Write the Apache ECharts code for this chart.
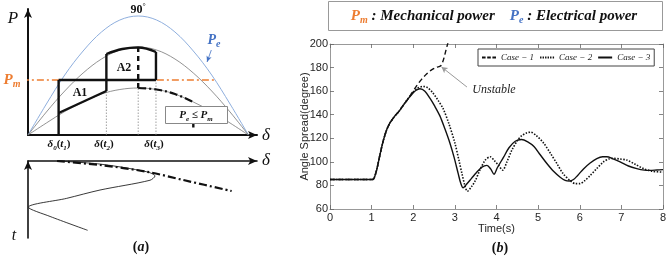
<!DOCTYPE html>
<html>
<head>
<meta charset="utf-8">
<script src="https://cdn.jsdelivr.net/npm/echarts@6/dist/echarts.min.js"></script>
<style>
html, body { margin: 0; padding: 0; background: #fff; }
#chart { width: 669px; height: 257px; }
</style>
</head>
<body>
<div id="chart"></div>
<script>
// ---- (b) angle spread vs time, [t (s), degree] ----
const timeTicks = [0, 1, 2, 3, 4, 5, 6, 7, 8]
const angleTicks = [60, 80, 100, 120, 140, 160, 180, 200]
const case1 = [[0, 85], [1, 85], [1.05, 85.5], [1.12, 93], [1.2, 106], [1.28, 118], [1.36, 127], [1.44, 133], [1.56, 139], [1.66, 143], [1.76, 148],
  [1.84, 151.5], [1.96, 158], [2.08, 164.5], [2.2, 170], [2.32, 174.5], [2.44, 178], [2.56, 180.2], [2.66, 181.5], [2.72, 186], [2.78, 194], [2.84, 202], [2.88, 208]]
const case2 = [[0, 85], [1, 85], [1.05, 85.5], [1.12, 93], [1.2, 106], [1.28, 118], [1.36, 127], [1.44, 133], [1.56, 139], [1.66, 143], [1.76, 148],
  [1.86, 153], [1.98, 158.5], [2.1, 162.5], [2.24, 164], [2.34, 163], [2.46, 159], [2.6, 152], [2.72, 145], [2.86, 132], [3.0, 116], [3.1, 101],
  [3.17, 90], [3.24, 80], [3.3, 75], [3.4, 79], [3.49, 84], [3.6, 93], [3.73, 101.5], [3.85, 104.3], [3.95, 101], [4.05, 97], [4.15, 93],
  [4.25, 100], [4.37, 110], [4.5, 118], [4.6, 122], [4.72, 124.5], [4.82, 125.2], [4.95, 122.5], [5.13, 116], [5.3, 107], [5.45, 98.6],
  [5.6, 90], [5.77, 84], [5.9, 81.5], [6.0, 81.5], [6.12, 84], [6.25, 88.4], [6.4, 94], [6.57, 100], [6.7, 102.5], [6.81, 103], [6.95, 102.5],
  [7.13, 101.5], [7.33, 98], [7.53, 94.3], [7.75, 92], [8, 91.3]]
const case3 = [[0, 85], [1, 85], [1.05, 85.5], [1.12, 93], [1.2, 106], [1.28, 118], [1.36, 127], [1.44, 133], [1.56, 139], [1.66, 143], [1.76, 148],
  [1.84, 152], [1.96, 157], [2.06, 160.5], [2.16, 162], [2.28, 160], [2.4, 154], [2.52, 147], [2.64, 139], [2.76, 128], [2.88, 116], [2.98, 104],
  [3.08, 90], [3.14, 82], [3.2, 78], [3.28, 81], [3.4, 86], [3.52, 91], [3.65, 95.5], [3.77, 97], [3.86, 94], [3.94, 89.5], [4.02, 95],
  [4.17, 104], [4.3, 112], [4.45, 117.5], [4.6, 119], [4.75, 117], [4.9, 113], [5.05, 106], [5.21, 98.6], [5.37, 92], [5.53, 87], [5.65, 84.3],
  [5.75, 83.8], [5.85, 85], [5.95, 88.5], [6.09, 94], [6.25, 99], [6.41, 102.8], [6.55, 104.3], [6.65, 104.3], [6.8, 102.5], [6.97, 100],
  [7.17, 96.5], [7.37, 94.3], [7.55, 93], [7.69, 92.8], [7.85, 93.1], [8, 93.4]]
const caseNames = ['Case \u2212 1', 'Case \u2212 2', 'Case \u2212 3']
const unstableArrow = [[3.29, 163.5], [2.68, 180.5]]

// ---- (a) power-angle diagram, [delta (deg), P] ----
const deltaSamples = [0, 15, 30, 45, 60, 75, 90, 105, 120, 135, 150, 165, 180]
const pePre = [0, 0.31, 0.6, 0.84, 1.03, 1.15, 1.19, 1.15, 1.03, 0.84, 0.6, 0.31, 0]
const pePost = [0, 0.23, 0.44, 0.62, 0.76, 0.85, 0.88, 0.85, 0.76, 0.62, 0.44, 0.23, 0]
const peFault = [0, 0.12, 0.235, 0.33, 0.41, 0.455, 0.47, 0.455, 0.41, 0.33, 0.235, 0.12, 0]
const pmLine = [[-5, 0.55], [154, 0.55]]
const thickSegments = [
  [[25, 0], [25, 0.55]],
  [[25, 0.55], [104.5, 0.55]],
  [[25, 0.22], [64, 0.44]],
  [[64, 0.44], [64, 0.81]],
  [[104.5, 0.55], [104.5, 0.83]],
  [[135, 0.115], [135, 0.075]]
]
const topArc = [[64, 0.81], [77, 0.86], [90, 0.875], [104.5, 0.83]]
const peakDashed = [[90, 0.47], [90, 0.875]]
const faultDashDot = [[90, 0.47], [105, 0.455], [120, 0.41], [135, 0.33]]
const guideLines = [
  [[64, 0], [64, 0.44]],
  [[90, 0], [90, 0.47]],
  [[104.5, 0], [104.5, 0.55]]
]
const peArrow = [[149.7, 0.85], [146.2, 0.73]]
// swing curves, [delta (deg), t]
const swingStable = [[23.7, 0], [58.8, 0.04], [97, 0.14], [103.7, 0.195], [99.6, 0.25], [58.8, 0.377], [31.6, 0.485], [0.3, 0.6], [18, 0.72], [48.7, 0.9]]
const swingUnstable = [[23.7, 0], [58.8, 0.052], [96.9, 0.139], [126.8, 0.247], [166.3, 0.39]]

const serif = 'Liberation Serif'
const sans = 'Liberation Sans'
const black = '#111'
const orange = '#ed7d31'
const blue = '#4472c4'

const chart = echarts.init(document.getElementById('chart'))

function zipDelta(vals) {
  return deltaSamples.map((d, i) => [d, vals[i]])
}

function diagramLine(data, style, extra) {
  return Object.assign({
    type: 'line',
    xAxisIndex: 2,
    yAxisIndex: 2,
    data: data,
    symbol: 'none',
    silent: true,
    lineStyle: style
  }, extra || {})
}

// rich text tokens for math-like labels (m: italic letter, r: plain, s: subscript)
function tok(size, color, kind) {
  const sub = kind === 's'
  const fs = sub ? Math.round(size * 0.68) : size
  return {
    fontFamily: serif,
    fontStyle: kind === 'r' ? 'normal' : 'italic',
    fontWeight: 'bold',
    fontSize: fs,
    lineHeight: sub ? fs : size + 4,
    fill: color,
    verticalAlign: sub ? 'bottom' : 'middle'
  }
}
function mathRich(size, color) {
  return { m: tok(size, color, 'm'), r: tok(size, color, 'r'), s: tok(size, color, 's') }
}

function label(x, y, text, rich) {
  return {
    type: 'text', x: x, y: y, z: 100,
    style: { text: text, rich: rich, align: 'center', verticalAlign: 'middle' }
  }
}

const series = []

// (b) cases
const caseStyles = [
  { type: [5, 3], width: 1.4 },
  { type: [1.5, 1.5], width: 1.6 },
  { type: 'solid', width: 1.4 }
]
const caseIcons = [
  'path://M0,0h3.6v2h-3.6z M5.2,0h3.6v2h-3.6z M10.4,0h3.6v2h-3.6z',
  'path://M0,0h1.4v2h-1.4z M2.5,0h1.4v2h-1.4z M5,0h1.4v2h-1.4z M7.5,0h1.4v2h-1.4z M10,0h1.4v2h-1.4z M12.6,0h1.4v2h-1.4z',
  'path://M0,0h14v2h-14z'
]
;[case1, case2, case3].forEach((d, i) => {
  series.push({
    name: caseNames[i],
    type: 'line',
    xAxisIndex: 0,
    yAxisIndex: 0,
    data: d,
    symbol: 'none',
    smooth: 0.3,
    lineStyle: Object.assign({ color: black }, caseStyles[i]),
    itemStyle: { color: black },
    markLine: i === 0 ? {
      silent: true,
      symbol: ['none', 'arrow'],
      symbolSize: [5, 6],
      label: { show: false },
      lineStyle: { color: '#999', width: 1, type: 'solid' },
      data: [[{ coord: unstableArrow[0] }, { coord: unstableArrow[1] }]]
    } : undefined
  })
})

// (a) upper diagram
series.push(diagramLine(zipDelta(pePre), { color: '#8eaedd', width: 1 }, { smooth: 0.35 }))
series.push(diagramLine(zipDelta(pePost), { color: '#777', width: 0.8 }, { smooth: 0.35 }))
series.push(diagramLine(zipDelta(peFault), { color: '#777', width: 0.8 }, { smooth: 0.35 }))
guideLines.forEach(seg => {
  series.push(diagramLine(seg, { color: '#888', width: 0.8, type: [1.5, 1.5] }))
})
series.push(diagramLine(pmLine, { color: orange, width: 1.5, type: [7, 3, 2, 3] }, { clip: false }))
thickSegments.forEach(seg => {
  series.push(diagramLine(seg, { color: black, width: 2.4 }))
})
series.push(diagramLine(topArc, { color: black, width: 2.4 }, { smooth: 0.4 }))
series.push(diagramLine(peakDashed, { color: black, width: 2.4, type: [5, 4] }))
series.push(diagramLine(faultDashDot, { color: black, width: 2.2, type: [8, 3, 2, 3] }, {
  smooth: 0.4,
  markLine: {
    silent: true,
    symbol: ['none', 'arrow'],
    symbolSize: [4, 6],
    label: { show: false },
    lineStyle: { color: blue, width: 0.8, type: 'solid' },
    data: [[{ coord: peArrow[0] }, { coord: peArrow[1] }]]
  }
}))

// (a) lower diagram
series.push({
  type: 'line', xAxisIndex: 3, yAxisIndex: 3, data: swingStable, symbol: 'none', silent: true, smooth: 0.3,
  lineStyle: { color: '#222', width: 0.9 }
})
series.push({
  type: 'line', xAxisIndex: 3, yAxisIndex: 3, data: swingUnstable, symbol: 'none', silent: true, smooth: 0.3,
  lineStyle: { color: black, width: 2.2, type: [8, 3, 2, 3] }
})

const gridTick = { show: true, inside: true, length: 4, lineStyle: { color: '#666', width: 0.8 } }
const gridLine = { show: true, onZero: false, lineStyle: { color: '#999', width: 1 } }
const arrowAxis = (w) => ({ show: true, onZero: true, symbol: ['none', 'arrow'], symbolSize: [6, 9], lineStyle: { color: black, width: w } })

const headerRich = {
  po: tok(15, orange, 'm'), so: tok(15, orange, 's'),
  pb: tok(15, blue, 'm'), sb: tok(15, blue, 's'),
  r: tok(15, black, 'm')
}

const option = {
  animation: false,
  backgroundColor: '#fff',
  grid: [
    { left: 330, top: 44, width: 333, height: 165, outerBoundsMode: 'none' },
    { left: 28, top: 9, width: 229, height: 126, outerBoundsMode: 'none' },
    { left: 28, top: 161, width: 229, height: 77, outerBoundsMode: 'none' }
  ],
  legend: {
    data: caseNames.map((n, i) => ({ name: n, icon: caseIcons[i] })),
    left: 478,
    top: 49,
    orient: 'horizontal',
    itemWidth: 14,
    itemHeight: 8,
    itemGap: 6,
    padding: [4, 4],
    borderColor: '#444',
    borderWidth: 1,
    backgroundColor: '#fff',
    itemStyle: { borderWidth: 0 },
    lineStyle: { width: 0 },
    textStyle: { fontFamily: serif, fontStyle: 'italic', fontSize: 9, color: '#222' }
  },
  xAxis: [
    {
      gridIndex: 0, type: 'value', min: 0, max: 8, interval: 1,
      name: 'Time(s)', nameLocation: 'middle', nameGap: 14, nameMoveOverlap: false,
      nameTextStyle: { fontFamily: sans, fontSize: 11, color: '#262626' },
      axisLine: gridLine, axisTick: gridTick, splitLine: { show: false },
      axisLabel: { fontFamily: sans, fontSize: 11, color: '#262626', margin: 3,
        formatter: v => String(timeTicks[timeTicks.indexOf(v)]) }
    },
    {
      gridIndex: 0, type: 'value', position: 'top', min: 0, max: 8, interval: 1,
      axisLine: gridLine, axisTick: gridTick, axisLabel: { show: false }, splitLine: { show: false }
    },
    {
      gridIndex: 1, type: 'value', min: 0, max: 187,
      axisLine: arrowAxis(2), axisTick: { show: false }, axisLabel: { show: false }, splitLine: { show: false }
    },
    {
      gridIndex: 2, type: 'value', min: 0, max: 187, position: 'top',
      axisLine: arrowAxis(1.6), axisTick: { show: false }, axisLabel: { show: false }, splitLine: { show: false }
    }
  ],
  yAxis: [
    {
      gridIndex: 0, type: 'value', min: 60, max: 200, interval: 20,
      name: 'Angle Spread(degree)', nameLocation: 'middle', nameGap: 20, nameMoveOverlap: false,
      nameTextStyle: { fontFamily: sans, fontSize: 11, color: '#262626' },
      axisLine: gridLine, axisTick: gridTick, splitLine: { show: false },
      axisLabel: { fontFamily: sans, fontSize: 11, color: '#262626', margin: 2,
        formatter: v => String(angleTicks[angleTicks.indexOf(v)]) }
    },
    {
      gridIndex: 0, type: 'value', position: 'right', min: 60, max: 200, interval: 20,
      axisLine: gridLine, axisTick: gridTick, axisLabel: { show: false }, splitLine: { show: false }
    },
    {
      gridIndex: 1, type: 'value', min: 0, max: 1.26,
      axisLine: arrowAxis(2), axisTick: { show: false }, axisLabel: { show: false }, splitLine: { show: false }
    },
    {
      gridIndex: 2, type: 'value', min: 0, max: 1, inverse: true,
      axisLine: arrowAxis(1.6), axisTick: { show: false }, axisLabel: { show: false }, splitLine: { show: false }
    }
  ],
  series: series,
  graphic: [
    // header box
    { type: 'rect', z: 100, shape: { x: 328.5, y: 1.5, width: 334, height: 29 }, style: { fill: '#fff', stroke: '#999', lineWidth: 1 } },
    label(494, 16, '{po|P}{so|m}{r| : Mechanical power    }{pb|P}{sb|e}{r| : Electrical power}', headerRich),
    // Pe <= Pm box
    { type: 'rect', z: 100, shape: { x: 165.5, y: 106.5, width: 62, height: 17 }, style: { fill: '#fff', stroke: '#888', lineWidth: 1 } },
    label(196, 115, '{m|P}{s|e}{r| \u2264 }{m|P}{s|m}', mathRich(11, black)),
    // axis labels of (a)
    label(13, 19, '{m|P}', { m: { fontFamily: serif, fontStyle: 'italic', fontSize: 17, fill: black } }),
    label(12, 80, '{m|P}{s|m}', mathRich(15, orange)),
    label(138, 10, '{r|90}{d|\u00b0}', { r: { fontFamily: serif, fontWeight: 'bold', fontSize: 12, lineHeight: 14, fill: black }, d: { fontFamily: serif, fontSize: 8, lineHeight: 14, fill: black, verticalAlign: 'top' } }),
    label(214, 40, '{m|P}{s|e}', mathRich(14, blue)),
    label(124, 68, '{r|A2}', mathRich(12, black)),
    label(80, 93, '{r|A1}', mathRich(12, black)),
    label(59, 144, '{m|\u03b4}{s|0}{r|(}{m|t}{s|1}{r|)}', mathRich(11, black)),
    label(104, 144, '{m|\u03b4}{r|(}{m|t}{s|2}{r|)}', mathRich(11, black)),
    label(154, 144, '{m|\u03b4}{r|(}{m|t}{s|3}{r|)}', mathRich(11, black)),
    label(266, 136, '{m|\u03b4}', { m: { fontFamily: serif, fontStyle: 'italic', fontSize: 17, fill: black } }),
    label(266, 161, '{m|\u03b4}', { m: { fontFamily: serif, fontStyle: 'italic', fontSize: 17, fill: black } }),
    label(14, 236, '{m|t}', { m: { fontFamily: serif, fontStyle: 'italic', fontSize: 16, fill: black } }),
    label(141, 247, '{r|(}{m|a}{r|)}', mathRich(14, black)),
    label(500, 248, '{r|(}{m|b}{r|)}', mathRich(14, black)),
    // annotation in (b)
    label(494, 90, '{m|Unstable}', { m: { fontFamily: serif, fontStyle: 'italic', fontSize: 12, fill: '#222' } })
  ]
}

chart.setOption(option)
</script>
</body>
</html>
